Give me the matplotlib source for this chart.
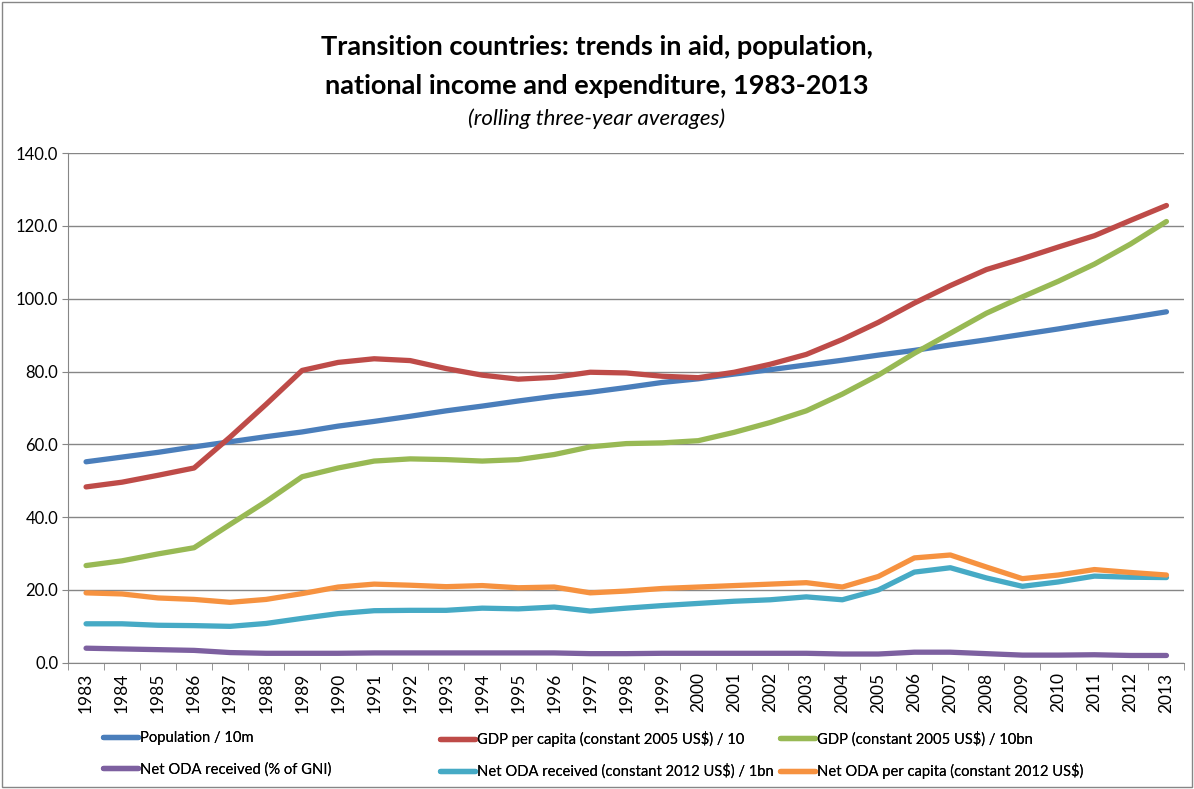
import numpy as np
import matplotlib.pyplot as plt
from matplotlib.patches import Rectangle

plt.rcParams['font.family'] = ['Lato', 'DejaVu Sans']

years = list(range(1983, 2014))
population = [55.2, 56.5, 57.8, 59.3, 60.7, 62.1, 63.4, 65.0, 66.3, 67.7, 69.2, 70.5, 71.9, 73.2, 74.3, 75.6,
              77.0, 78.0, 79.3, 80.5, 81.8, 83.1, 84.5, 85.8, 87.3, 88.7, 90.2, 91.7, 93.3, 94.8, 96.4]
gdp_pc = [48.3, 49.6, 51.5, 53.5, 62.0, 71.0, 80.3, 82.5, 83.5, 83.0, 80.8, 79.0, 77.9, 78.4, 79.8, 79.6,
          78.7, 78.3, 79.8, 82.0, 84.7, 88.8, 93.5, 98.8, 103.6, 108.0, 111.0, 114.2, 117.3, 121.5, 125.6]
gdp = [26.7, 28.0, 29.9, 31.6, 38.0, 44.3, 51.1, 53.5, 55.4, 56.0, 55.8, 55.4, 55.8, 57.2, 59.3, 60.2,
       60.4, 61.0, 63.3, 66.0, 69.2, 73.8, 79.0, 85.0, 90.5, 96.0, 100.5, 104.8, 109.5, 115.0, 121.2]
oda_gni = [4.0, 3.8, 3.6, 3.4, 2.8, 2.6, 2.6, 2.6, 2.7, 2.7, 2.7, 2.7, 2.7, 2.7, 2.5, 2.5,
           2.6, 2.6, 2.6, 2.6, 2.6, 2.4, 2.4, 2.9, 2.9, 2.5, 2.1, 2.1, 2.2, 2.0, 2.0]
oda_bn = [10.7, 10.7, 10.3, 10.2, 10.0, 10.8, 12.2, 13.5, 14.3, 14.4, 14.4, 15.0, 14.8, 15.3, 14.2, 15.0,
          15.7, 16.3, 16.9, 17.3, 18.1, 17.3, 20.0, 24.9, 26.1, 23.3, 21.0, 22.2, 23.8, 23.5, 23.4]
oda_pc = [19.2, 18.9, 17.8, 17.4, 16.6, 17.4, 19.0, 20.8, 21.6, 21.3, 20.9, 21.2, 20.6, 20.8, 19.2, 19.7,
          20.4, 20.8, 21.2, 21.6, 22.0, 20.8, 23.7, 28.8, 29.6, 26.3, 23.1, 24.1, 25.6, 24.8, 24.1]

series = [
    ("Population / 10m", population, "#4A7EBB"),
    ("GDP per capita (constant 2005 US$) / 10", gdp_pc, "#BE4B48"),
    ("GDP (constant 2005 US$) / 10bn", gdp, "#98B954"),
    ("Net ODA received (% of GNI)", oda_gni, "#7D60A0"),
    ("Net ODA received (constant 2012 US$) / 1bn", oda_bn, "#46AAC5"),
    ("Net ODA per capita (constant 2012 US$)", oda_pc, "#F69240"),
]

fig = plt.figure(figsize=(11.94, 7.89), dpi=100)
ax = fig.add_axes([0.057, 0.160, 0.935, 0.646])

x = np.arange(len(years))
handles = []
for name, vals, col in series:
    h, = ax.plot(x, vals, color=col, lw=3.8, solid_capstyle='round', solid_joinstyle='round', label=name)
    handles.append(h)

ax.set_xlim(-0.5, len(years) - 0.5)
ax.set_ylim(0, 140)
ax.set_yticks(np.arange(0, 141, 20))
ax.set_yticklabels([f"{v:.1f}" for v in np.arange(0, 141, 20)], fontsize=12)
ax.set_xticks(x)
ax.set_xticklabels([str(y) for y in years], rotation=90, fontsize=12.5)
ax.set_xticks(np.arange(-0.5, len(years), 1), minor=True)
ax.tick_params(axis='x', which='major', length=0, pad=7)
ax.tick_params(axis='x', which='minor', length=5, color='#868686')
ax.tick_params(axis='y', length=4, color='#868686', pad=3)
ax.grid(axis='y', color='#868686', lw=1)
ax.set_axisbelow(True)
for s in ['top', 'right']:
    ax.spines[s].set_visible(False)
for s in ['left', 'bottom']:
    ax.spines[s].set_color('#868686')

fig.text(0.5, 0.940, "Transition countries: trends in aid, population,", ha='center', va='center',
         fontsize=19.5, fontweight='bold')
fig.text(0.5, 0.891, "national income and expenditure, 1983-2013", ha='center', va='center',
         fontsize=19.5, fontweight='bold')
fig.text(0.5, 0.850, "(rolling three-year averages)", ha='center', va='center',
         fontsize=16, style='italic')

# one legend per column, as in the reference layout
col_x = [103, 440, 780]
for c in range(3):
    hs = [handles[c], handles[c + 3]]
    ls = [series[c][0], series[c + 3][0]]
    leg = fig.legend(hs, ls, loc='upper left', bbox_to_anchor=(col_x[c] / 1194, 1 - 731 / 789),
                     frameon=False, fontsize=10.6, handlelength=2.4, handletextpad=0.1,
                     labelspacing=1.15, borderpad=0, borderaxespad=0)
    fig.add_artist(leg)

fig.add_artist(Rectangle((0.002, 0.002), 0.996, 0.996, transform=fig.transFigure,
                         fill=False, edgecolor='#868686', lw=1))

fig.savefig('out.png', dpi=100)
